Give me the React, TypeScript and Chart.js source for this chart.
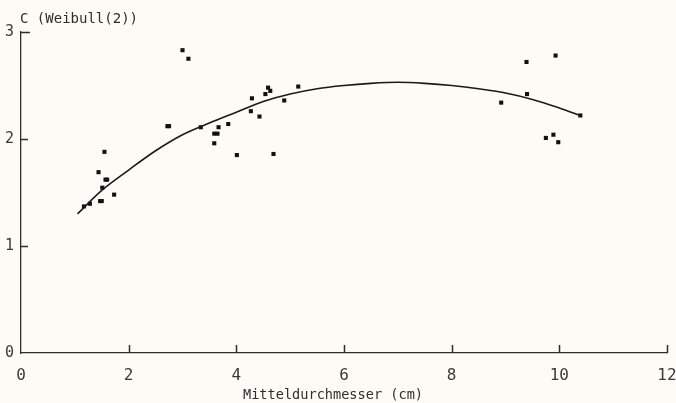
import React, { useEffect, useRef } from "react";
import { Chart, registerables } from "chart.js";

Chart.register(...registerables);

// Measured points: Mitteldurchmesser (cm) vs C (Weibull(2))
const diameterCm = [
  1.17, 1.28, 1.47, 1.5, 1.73, 1.51, 1.57, 1.6, 1.44, 1.55,
  2.72, 2.75, 3.0, 3.11, 3.34, 3.59, 3.59, 3.65, 3.67, 3.85,
  4.01, 4.27, 4.29, 4.43, 4.54, 4.59, 4.63, 4.69, 4.89, 5.15,
  8.92, 9.39, 9.4, 9.75, 9.89, 9.93, 9.98, 10.39,
];
const weibullC = [
  1.37, 1.395, 1.42, 1.42, 1.48, 1.545, 1.62, 1.62, 1.69, 1.88,
  2.12, 2.12, 2.83, 2.75, 2.11, 1.96, 2.05, 2.05, 2.11, 2.14,
  1.85, 2.26, 2.38, 2.21, 2.42, 2.48, 2.45, 1.86, 2.36, 2.49,
  2.34, 2.72, 2.42, 2.01, 2.04, 2.78, 1.97, 2.22,
];

// Fitted curve
const curveX = [1.05, 1.5, 2, 2.5, 3, 3.5, 4, 4.5, 5, 5.5, 6, 6.5, 7, 7.5, 8, 8.5, 9, 9.5, 10, 10.39];
const curveY = [1.3, 1.52, 1.71, 1.89, 2.04, 2.15, 2.25, 2.35, 2.42, 2.47, 2.5, 2.52, 2.53, 2.52, 2.5, 2.47, 2.43, 2.37, 2.29, 2.22];

const xTicks = [0, 2, 4, 6, 8, 10, 12];
const yTicks = [0, 1, 2, 3];

const yTitle = "C (Weibull(2))";
const xTitle = "Mitteldurchmesser (cm)";

const INK = "#2e2e2e";
const FONT = "'DejaVu Sans Mono', monospace";

export default function App() {
  const ref = useRef<HTMLCanvasElement | null>(null);

  useEffect(() => {
    document.body.style.margin = "0";
    document.body.style.background = "#fcfbf5";
    const canvas = ref.current;
    if (!canvas) return;

    const innerTicks = {
      id: "innerTicks",
      afterDatasetsDraw(chart: any) {
        const { ctx, scales, chartArea } = chart;
        const xs = scales.x;
        const ys = scales.y;
        ctx.save();
        ctx.strokeStyle = INK;
        ctx.lineWidth = 1.5;
        ctx.beginPath();
        for (const v of xTicks) {
          if (v === 0) continue;
          const px = Math.round(xs.getPixelForValue(v)) + 0.5;
          ctx.moveTo(px, chartArea.bottom);
          ctx.lineTo(px, chartArea.bottom - 8);
        }
        for (const v of yTicks) {
          if (v === 0) continue;
          const py = Math.round(ys.getPixelForValue(v)) + 0.5;
          ctx.moveTo(chartArea.left, py);
          ctx.lineTo(chartArea.left + (v === 3 ? 9 : 7), py);
        }
        ctx.stroke();
        ctx.fillStyle = INK;
        ctx.font = `14px ${FONT}`;
        ctx.textAlign = "left";
        ctx.textBaseline = "alphabetic";
        ctx.fillText(yTitle, 20, 23);
        ctx.font = `13.6px ${FONT}`;
        ctx.textAlign = "center";
        ctx.fillText(xTitle, 333, 399);
        ctx.restore();
      },
    };

    const chart = new Chart(canvas, {
      type: "scatter",
      data: {
        datasets: [
          {
            type: "line",
            data: curveX.map((x, i) => ({ x, y: curveY[i] })),
            borderColor: "#1a1a1a",
            borderWidth: 1.6,
            pointRadius: 0,
            tension: 0.4,
            cubicInterpolationMode: "monotone",
            fill: false,
          },
          {
            data: diameterCm.map((x, i) => ({ x, y: weibullC[i] })),
            pointStyle: "rect",
            pointRadius: 2.9,
            pointBorderWidth: 0,
            backgroundColor: "#111",
            borderColor: "#111",
          },
        ],
      } as any,
      options: {
        animation: false,
        responsive: false,
        events: [],
        layout: { padding: { top: 32, right: 9, left: 0, bottom: 0 } },
        plugins: { legend: { display: false }, tooltip: { enabled: false }, title: { display: false } },
        scales: {
          x: {
            type: "linear",
            min: 0,
            max: 12,
            afterBuildTicks: (s: any) => {
              s.ticks = xTicks.map((v) => ({ value: v }));
            },
            afterFit: (s: any) => {
              s.height = 50;
              s.paddingLeft = 0;
              s.paddingRight = 0;
            },
            grid: { display: false, drawTicks: false },
            border: { display: true, color: INK, width: 1.3 },
            ticks: { color: "#3a3a3a", font: { family: FONT, size: 16 }, padding: 13, maxRotation: 0 },
          },
          y: {
            type: "linear",
            min: 0,
            max: 3,
            afterBuildTicks: (s: any) => {
              s.ticks = yTicks.map((v) => ({ value: v }));
            },
            afterFit: (s: any) => {
              s.width = 21;
              s.paddingTop = 0;
              s.paddingBottom = 0;
            },
            grid: { display: false, drawTicks: false },
            border: { display: true, color: INK, width: 1.3 },
            ticks: { color: "#3a3a3a", font: { family: FONT, size: 15 }, padding: 7 },
          },
        },
      } as any,
      plugins: [innerTicks],
    });
    return () => chart.destroy();
  }, []);

  return (
    <div style={{ position: "fixed", left: 0, top: 0, width: 676, height: 403, background: "#fcfbf5" }}>
      <canvas ref={ref} width={676} height={403} style={{ width: 676, height: 403, display: "block" }} />
    </div>
  );
}
